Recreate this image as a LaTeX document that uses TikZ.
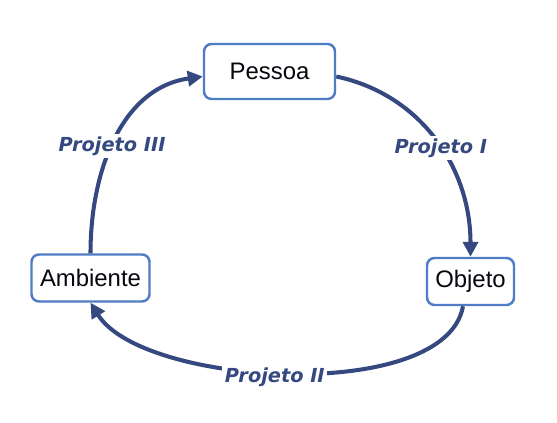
\documentclass[tikz,border=0pt]{standalone}
\usepackage{fontspec}
\setmainfont{Liberation Sans}
\newfontfamily\projfont{DejaVu Sans}
\usepackage{tikz}
\usetikzlibrary{arrows.meta}
\definecolor{boxblue}{RGB}{79,124,197}
\definecolor{navy}{RGB}{53,73,128}

\begin{document}
\begin{tikzpicture}[
    caixa/.style={draw=boxblue, line width=1.4pt, rounded corners=1.5mm, fill=white, text=black!90!navy,
        font=\fontsize{13.6}{16}\selectfont, minimum height=0.94cm, inner sep=0pt},
    ciclo/.style={navy, line width=2.3pt, -{Triangle[length=3mm,width=3mm]}},
    rotulo/.style={fill=white, text=navy, inner sep=1.5pt, font=\projfont\bfseries\itshape\fontsize{11}{13}\selectfont}
]
        \useasboundingbox (0,0) rectangle (11.14,8.46);
        \node[caixa, minimum width=2.62cm, minimum height=1.10cm] (pessoa) at (5.39,7.03) {Pessoa};
        \node[caixa, minimum width=2.36cm] (ambiente) at (1.81,2.90) {Ambiente};
        \node[caixa, minimum width=1.74cm] (objeto) at (9.41,2.83) {Objeto};
        \draw[ciclo] ([yshift=-1mm]pessoa.east) to[out=-12, in=90] node[rotulo, pos=0.54]{Projeto I} (objeto.north);
        \draw[ciclo] ([xshift=-1.5mm]objeto.south) to[out=-100, in=-58, looseness=0.68] node[rotulo, pos=0.53, yshift=-1mm]{Projeto II} (ambiente.south);
        \draw[ciclo] (ambiente.north) to[out=90, in=188] node[rotulo, pos=0.46]{Projeto III} ([yshift=-1mm]pessoa.west);
\end{tikzpicture}
\end{document}
